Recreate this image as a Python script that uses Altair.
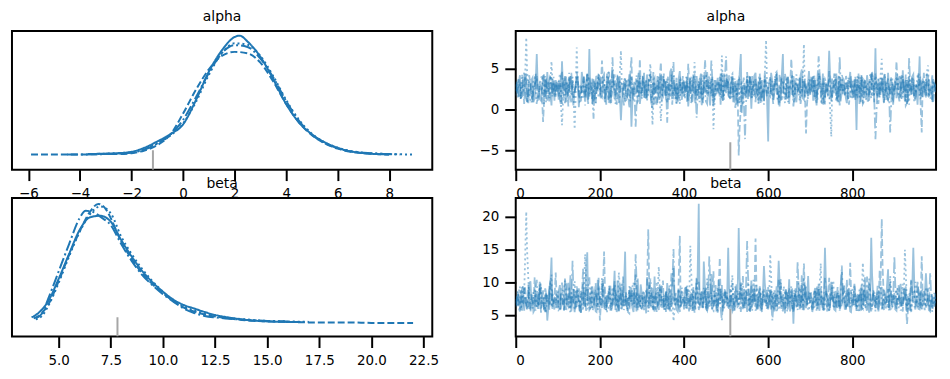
import altair as alt
import pandas as pd

CHAINS = ["0", "1", "2", "3"]
BLUE = "#1f77b4"
DASHES = [[1, 0], [7, 3], [11, 3, 2, 3], [2, 3]]

# ---------------- KDE (alpha) ----------------
ALPHA_KDE_X0 = [-3.7, -3.0, -2.5, -2.0, -1.5, -1.0, -0.5, 0.0, 0.5, 1.0, 1.5, 2.0, 2.2, 2.5, 3.0, 3.5, 4.0, 4.5, 5.0, 5.5, 6.0, 6.5, 7.0, 7.5, 8.0]
ALPHA_KDE_Y0 = [0.002, 0.003, 0.004, 0.007, 0.016, 0.030, 0.046, 0.068, 0.122, 0.185, 0.232, 0.262, 0.265, 0.252, 0.218, 0.168, 0.113, 0.072, 0.046, 0.028, 0.016, 0.008, 0.004, 0.002, 0.001]
ALPHA_KDE_X1 = [-5.9, -5.0, -4.0, -3.0, -2.5, -2.0, -1.5, -1.0, -0.5, 0.0, 0.5, 1.0, 1.5, 2.0, 2.5, 3.0, 3.5, 4.0, 4.5, 5.0, 5.5, 6.0, 6.5, 7.0, 7.5, 8.0]
ALPHA_KDE_Y1 = [0.001, 0.001, 0.001, 0.002, 0.002, 0.004, 0.010, 0.022, 0.045, 0.092, 0.145, 0.190, 0.220, 0.229, 0.226, 0.205, 0.163, 0.113, 0.072, 0.044, 0.026, 0.014, 0.007, 0.004, 0.002, 0.001]
ALPHA_KDE_X2 = [-4.5, -4.0, -3.0, -2.0, -1.5, -1.0, -0.5, 0.0, 0.5, 1.0, 1.5, 2.0, 2.5, 3.0, 3.5, 4.0, 4.5, 5.0, 5.5, 6.0, 6.5, 7.0, 7.5, 8.0, 8.4]
ALPHA_KDE_Y2 = [0.001, 0.001, 0.002, 0.005, 0.012, 0.025, 0.045, 0.078, 0.128, 0.182, 0.226, 0.244, 0.240, 0.214, 0.172, 0.120, 0.076, 0.045, 0.026, 0.015, 0.008, 0.005, 0.003, 0.002, 0.001]
ALPHA_KDE_X3 = [-3.5, -3.0, -2.0, -1.5, -1.0, -0.5, 0.0, 0.5, 1.0, 1.5, 2.0, 2.5, 3.0, 3.5, 4.0, 4.5, 5.0, 5.5, 6.0, 6.5, 7.0, 7.5, 8.0, 8.9]
ALPHA_KDE_Y3 = [0.002, 0.003, 0.006, 0.013, 0.026, 0.043, 0.070, 0.118, 0.178, 0.226, 0.248, 0.245, 0.220, 0.175, 0.122, 0.078, 0.047, 0.028, 0.016, 0.009, 0.005, 0.003, 0.002, 0.001]

# ---------------- KDE (beta) ----------------
BETA_KDE_X0 = [3.7, 4.0, 4.5, 5.0, 5.5, 6.0, 6.5, 7.0, 7.5, 8.0, 8.5, 9.0, 9.5, 10.0, 10.5, 11.0, 11.5, 12.0, 12.5, 13.0, 14.0, 15.0, 16.0, 16.6]
BETA_KDE_Y0 = [0.012, 0.020, 0.045, 0.090, 0.140, 0.188, 0.214, 0.217, 0.205, 0.168, 0.135, 0.106, 0.083, 0.064, 0.048, 0.037, 0.030, 0.023, 0.017, 0.013, 0.007, 0.004, 0.003, 0.003]
BETA_KDE_X1 = [3.8, 4.0, 4.5, 5.0, 5.5, 6.0, 6.5, 6.9, 7.3, 7.5, 8.0, 8.5, 9.0, 9.5, 10.0, 10.5, 11.0, 11.5, 12.0, 12.5, 13.0, 14.0, 15.0, 16.0, 17.0, 18.0, 19.0, 20.0, 21.0, 22.0]
BETA_KDE_Y1 = [0.010, 0.014, 0.038, 0.085, 0.138, 0.185, 0.225, 0.241, 0.228, 0.212, 0.165, 0.130, 0.101, 0.079, 0.061, 0.045, 0.032, 0.024, 0.018, 0.014, 0.011, 0.006, 0.004, 0.003, 0.002, 0.002, 0.002, 0.001, 0.001, 0.001]
BETA_KDE_X2 = [3.9, 4.2, 4.5, 5.0, 5.5, 6.0, 6.3, 6.7, 7.0, 7.5, 8.0, 8.5, 9.0, 9.5, 10.0, 10.5, 11.0, 11.5, 12.0, 12.5, 13.0, 14.0, 15.0, 16.0]
BETA_KDE_Y2 = [0.010, 0.020, 0.050, 0.105, 0.160, 0.212, 0.227, 0.224, 0.215, 0.198, 0.160, 0.126, 0.098, 0.077, 0.059, 0.044, 0.030, 0.021, 0.015, 0.012, 0.010, 0.007, 0.005, 0.004]
BETA_KDE_X3 = [3.9, 4.2, 4.5, 5.0, 5.5, 6.0, 6.5, 7.0, 7.5, 8.0, 8.5, 9.0, 9.5, 10.0, 10.5, 11.0, 11.5, 12.0, 12.5, 13.0, 14.0, 15.0, 16.0, 17.0]
BETA_KDE_Y3 = [0.008, 0.015, 0.035, 0.082, 0.135, 0.184, 0.220, 0.236, 0.222, 0.175, 0.140, 0.110, 0.085, 0.064, 0.046, 0.034, 0.026, 0.020, 0.015, 0.012, 0.008, 0.005, 0.004, 0.003]

# ---------------- Trace values: draws 0,5,10,... ----------------
ALPHA_TRACE_0 = [
    3.1, 2.4, 4.2, 1.6, 2.9, 3.5, 0.8, 2.2, 3.9, 1.4, 6.8, 2.7, 1.1, 3.3, 2.0, 4.6, 1.9, 0.5, 2.8, 3.6,
    2.3, 1.2, 5.9, 2.6, 0.9, 3.0, 4.1, 1.7, 2.5, 3.8, 0.3, 2.1, 3.4, 1.5, 4.4, 7.4, 2.0, 1.0, 3.2, 2.7,
    4.0, 1.8, 2.9, 0.6, 3.5, 2.2, 4.8, 1.3, 2.6, 3.7, -1.3, 2.4, 3.1, 1.6, 4.3, -2.1, 2.8, 1.9, 3.6, 0.7,
    2.5, 4.5, 1.4, 3.0, 2.1, 0.2, 3.9, 2.7, 1.8, 4.2, 2.3, 3.3, 0.9, 2.6, 5.0, 1.7, 3.1, 2.0, 4.7, 1.2,
    3.4, 2.2, 0.4, 3.8, 2.9, 1.5, 4.1, 2.4, 3.2, 1.0, 2.7, 4.6, 1.9, 3.5, 0.8, 2.8, 3.9, 1.6, 2.3, 4.4,
    2.0, 3.1, 1.3, 4.0, 2.5, 0.6, 3.3, 6.8, 2.2, 1.7, 3.7, 2.6, 0.1, 3.0, 4.5, 1.8, 2.9, 3.6, 1.1, 2.4,
    -3.9, 1.9, 3.4, 2.1, 4.3, 1.4, 2.8, 6.8, 2.0, 3.2, 0.7, 2.5, 4.1, 1.6, 3.0, 2.3, 4.9, 1.2, 2.6, 3.5,
    1.8, 3.9, 2.4, 0.5, 3.1, 2.7, 4.4, 1.5, 2.2, 7.2, 1.9, 3.3, 2.6, 0.9, 4.0, 2.1, 3.6, 1.3, 2.8, 4.6,
    2.3, 3.0, -2.5, 2.9, 1.6, 3.8, 2.4, 4.2, 1.1, 2.7, 3.4, 7.5, 1.7, 2.5, 3.9, 0.8, 2.2, 4.5, 1.9, 3.1,
    2.6, 1.4, 3.7, 2.0, 4.8, 1.0, 2.9, 3.5, 1.8, 4.3, 2.4, 0.6, 6.5, 2.1, 3.3, 1.5, 4.0, 2.7, 1.2, 3.2,
]
ALPHA_TRACE_1 = [
    2.8, 1.5, 3.6, 2.3, 0.7, 4.4, 2.0, 3.1, 1.2, 2.9, 4.1, 1.8, 2.5, -1.5, 3.4, 2.2, 0.9, 3.8, 2.6, 1.6,
    3.3, 2.1, 4.7, 1.4, 2.8, 0.4, 3.5, 2.4, 1.9, 4.0, 2.6, 1.1, 3.2, 2.0, 4.5, 1.6, 2.9, 3.7, 0.8, 2.3,
    3.0, 6.0, 1.7, 2.7, 3.9, 1.3, 2.5, 4.3, 0.6, 3.1, 2.2, 1.5, 3.6, 2.8, 0.2, 6.4, 2.4, 3.3, 1.0, 6.2,
    2.1, 3.5, 1.4, 2.9, 4.2, 1.9, 0.5, 3.0, 2.6, 5.8, 1.7, 2.3, 3.8, 1.2, 2.7, 4.1, 2.0, 0.9, 3.4, 2.5,
    1.6, 3.2, 5.6, 2.1, 0.8, 3.7, 2.4, 1.3, 4.4, 2.8, 6.1, 1.9, 3.0, 2.2, 0.4, 3.6, 2.6, 4.0, 1.5, 2.9,
    3.3, 1.8, 2.5, 4.2, 1.1, 2.7, -5.6, 0.3, 3.1, 2.0, 4.6, 1.6, 2.8, 3.5, 0.9, 2.4, 3.9, 1.4, 2.2, 3.0,
    2.6, 4.1, 1.7, 3.4, 2.3, 0.6, 3.8, 2.1, 4.4, 1.5, 2.9, 6.2, 1.2, 3.0, 2.4, 4.0, 1.8, 3.3, -2.9, 2.7,
    1.9, 3.6, 2.5, 0.8, 4.3, 2.2, 3.1, 1.4, 2.8, 4.7, 1.0, 2.6, 3.5, 2.0, 0.5, 3.2, 2.7, 4.1, 1.6, 2.3,
    3.7, 1.3, 2.9, 4.5, 2.1, 0.7, 3.4, 2.5, 1.8, 3.9, 2.2, 4.2, 1.5, 2.8, 3.1, 0.9, 2.6, 3.8, 2.0, 1.4,
    3.0, 5.9, 2.3, 1.6, 3.6, 2.7, 0.8, 4.1, 2.2, 3.3, 1.2, 2.9, 4.0, -2.8, 2.4, 3.5, 1.7, 2.6, 4.3, 2.1,
]
ALPHA_TRACE_2 = [
    2.2, 3.7, 1.9, 2.8, 4.5, 1.3, 2.6, 3.2, 0.9, 2.4, 3.8, 1.6, 2.9, 4.2, 2.0, 1.1, 3.5, 2.7, 4.0, 1.8,
    2.5, 3.3, 0.7, 2.9, 4.1, 2.1, 1.4, 3.6, 2.3, 4.6, 1.7, 2.8, 3.1, 0.5, 2.6, 3.9, 2.0, -1.1, 3.4, 2.2,
    1.5, 3.0, 4.3, 2.4, 1.2, 3.7, 6.4, 2.0, 2.7, 0.8, 3.5, 2.3, 4.0, 1.6, 2.9, 3.2, 1.0, -2.1, 2.5, 3.8,
    2.1, 1.4, 3.6, 2.8, 4.4, 1.9, 2.6, 0.6, 3.3, 2.2, 4.1, 1.7, -1.6, 3.0, 2.5, 5.8, 1.3, 2.9, 3.7, 2.0,
    3.4, 2.6, 1.1, 3.9, 2.3, 4.2, -1.0, 2.8, 1.5, 3.1, 2.4, 0.7, 3.6, 6.0, 2.1, 1.8, 3.3, 2.7, 4.5, 1.2,
    6.5, 2.2, 3.0, 1.6, 3.8, 2.5, 0.9, 3.4, 2.0, -3.6, 2.8, 4.1, 1.4, 2.6, 3.5, 1.9, 4.4, 2.3, 0.6, 3.1,
    2.4, 3.7, 1.7, 2.9, 4.6, 2.1, 1.0, 3.3, 2.6, 3.9, 1.5, 2.7, 0.4, 3.6, 2.2, 4.0, 1.8, 3.1, 2.5, 1.3,
    3.5, 2.0, 4.2, 1.6, 6.5, 2.8, 3.2, 0.8, 2.4, 3.8, 1.9, 2.6, 4.3, 1.2, 6.5, 2.3, 3.0, 1.7, 3.6, 2.9,
    1.4, 3.3, 2.5, 4.0, 0.9, 2.7, 3.6, 1.8, 2.2, 4.4, 2.9, -3.6, 3.1, 1.5, 2.6, 3.9, 2.0, 1.1, -2.8, 3.4,
    2.3, 3.8, 1.6, 2.9, 4.1, 2.2, 0.7, 6.3, 2.5, 3.4, 1.3, 2.8, 3.7, 2.0, 4.5, 1.7, 3.0, 2.4, 0.9, 3.2,
]
ALPHA_TRACE_3 = [
    1.7, 3.4, 2.6, 4.3, 2.1, 8.8, 3.0, 1.2, 2.7, 3.9, 0.6, 2.3, 3.6, 1.9, 4.1, 2.5, 1.4, 5.9, 2.8, 3.2,
    2.0, 4.4, -1.9, 2.9, 3.5, 1.6, 2.4, 4.0, -2.4, 7.6, 2.2, 3.1, 1.3, 2.8, 4.2, 1.8, 3.3, 2.5, 0.8, 3.7,
    2.6, 1.5, 3.8, 2.3, 4.5, 1.0, 2.9, 3.4, 1.7, 2.1, 7.2, 2.7, 0.9, 3.6, 2.4, 4.1, 1.6, 3.0, 2.2, 3.9,
    1.3, 2.8, 3.5, 2.0, 5.6, -1.9, 3.2, 2.5, 4.0, -1.4, 2.9, 3.7, 1.8, 2.4, 4.3, 1.1, 3.0, 2.6, 0.7, 3.4,
    2.2, 4.0, 1.9, 3.1, 2.7, 5.8, 1.4, 3.5, 2.3, 0.8, 3.8, 2.5, 4.2, 1.6, -2.4, 3.0, 2.1, 3.6, 6.6, 1.7,
    2.9, 3.3, 1.2, 4.4, 2.4, 1.8, 3.7, 2.6, 0.5, 3.0, 4.1, 2.0, 2.8, 1.5, 3.9, 2.2, 3.4, 1.0, 2.7, 8.5,
    2.1, 1.6, 3.5, 2.9, 4.3, 1.3, 2.6, 3.2, 0.8, 3.8, 2.4, 4.0, 1.9, 2.7, 3.4, 1.1, 2.3, 8.0, 3.0, 2.0,
    3.6, 2.5, 1.4, 3.1, 4.5, 2.2, 0.9, 3.7, 2.8, 1.7, -3.3, 2.6, 3.9, 1.5, 2.3, 4.2, 2.0, 3.3, 1.2, 2.9,
    2.4, 3.8, 1.8, 2.6, 4.0, 0.7, 3.2, 2.1, 3.5, 1.4, 2.9, 4.4, 2.3, 1.6, 6.2, 2.7, 3.4, 1.0, 2.5, 3.9,
    1.9, 3.1, 2.6, 4.2, 1.5, 2.8, 3.6, 0.6, 2.3, 3.9, 2.0, 4.1, 1.7, 3.0, 2.5, 3.5, 5.4, 1.3, 2.7, 3.3,
]

# ---------------- Trace values: draws 2,7,12,... ----------------
ALPHA_MID_0 = [
    2.0, 3.3, 1.5, 2.7, 4.0, 1.9, 2.4, 3.6, 0.9, 2.8, 3.2, 1.3, 2.5, 4.3, 1.7, 3.0, 2.2, 3.7, 1.1, 2.6,
    3.5, 0.7, 2.9, 4.1, 1.8, 2.3, 3.4, 0.5, 2.7, 3.9, 1.6, 4.6, 2.0, 3.1, 1.2, 2.6, 3.8, 1.5, 2.4, 4.2,
    1.4, 3.2, 2.6, 4.4, 0.8, 2.9, 3.5, 1.7, 4.0, 2.2, 0.9, 3.3, 1.8, 2.7, 3.9, 0.6, 3.4, 2.3, 4.5, 1.6,
    3.0, 1.9, 4.3, 2.4, 0.9, 3.6, 2.1, 4.1, 1.2, 2.8, 3.5, 1.4, 3.1, 4.6, 1.8, 2.5, 0.7, 3.7, 2.2, 3.0,
    2.6, 4.0, 1.6, 2.3, 3.4, 0.8, 2.9, 3.8, 1.5, 4.2, 2.0, 3.1, 0.5, 2.7, 3.6, 1.9, 2.4, 4.4, 1.1, 3.3,
    3.8, 1.7, 2.8, 0.9, 3.5, 2.1, 4.3, -0.4, 3.0, 2.4, 1.3, 3.9, 2.6, 4.1, 1.6, 3.2, 0.8, 2.5, 3.6, 1.9,
    2.3, 4.5, 1.2, 3.1, 2.7, 0.4, 3.8, 2.0, 1.5, 4.0, 2.9, 1.8, 3.4, 0.9, 2.6, 4.2, 1.4, 3.5, 2.1, 4.7,
    2.8, 1.1, 3.6, 2.2, 4.1, 1.7, 0.6, 3.3, 2.5, 4.4, 1.4, 2.9, 3.7, 2.0, 1.0, 3.9, 2.4, 0.8, 3.2, 2.7,
    1.5, 3.7, 2.9, 0.7, 4.0, 2.3, 1.6, 3.4, 2.6, 4.6, 0.9, 2.1, 3.8, 1.8, 2.5, 4.3, 1.2, 3.0, 2.7, 0.6,
    3.5, 2.2, 4.1, 1.3, 2.8, 3.6, 0.9, 2.4, 4.0, 1.7, 3.1, 2.5, 1.4, 3.8, 2.0, 4.4, 1.6, 2.9, 3.3, 2.1,
]
ALPHA_MID_1 = [
    3.4, 2.0, 1.2, 3.8, 2.5, 0.9, 4.2, 1.7, 2.8, 3.5, 1.4, 3.0, 2.2, 0.6, 3.7, 2.6, 4.0, 1.9, 3.2, 2.4,
    1.6, 3.9, 2.3, 0.8, 3.3, 2.7, 4.5, 1.5, 2.9, 3.6, 1.0, 2.5, 4.1, 1.8, 3.2, 2.1, 0.7, 3.4, 2.6, 4.3,
    2.2, 3.7, 0.9, 2.4, 4.6, 1.6, 3.1, 2.8, 1.3, 3.9, 2.5, 0.5, 3.5, 2.0, 4.2, 1.8, 2.9, 3.6, 1.2, 2.7,
    3.8, 1.5, 2.6, 4.0, 1.1, 3.3, 2.4, 0.8, 3.7, 2.0, 4.4, 1.7, 2.8, 3.1, 0.6, 2.5, 3.9, 1.4, 2.3, 4.1,
    2.9, 0.9, 3.5, 2.2, 4.3, 1.6, 2.7, 3.4, 0.4, 2.6, 3.8, 1.9, 2.4, 4.0, 1.3, 3.1, 2.0, 3.6, 1.1, 2.8,
    4.2, 1.5, 3.0, 2.3, 0.2, 3.6, -2.4, 2.1, 3.9, 1.4, 2.7, 4.1, 1.8, 3.2, 2.5, 0.8, 3.4, 2.2, 4.5, 1.6,
    3.1, 2.4, 0.7, 3.7, 2.0, 4.3, 1.2, 2.9, 3.5, 1.7, 2.6, 4.0, 0.9, 3.3, 2.1, 1.5, 3.8, 2.7, 0.3, 3.4,
    2.5, 4.1, 1.3, 3.0, 2.3, 0.8, 3.9, 2.6, 1.6, 3.5, 2.0, 4.4, 1.1, 2.8, 3.3, 1.9, 2.4, 3.7, 0.6, 3.1,
    2.2, 4.0, 1.4, 2.7, 3.6, 0.9, 3.2, 2.5, 4.3, 1.7, 2.9, 3.4, 0.7, 2.3, 3.8, 1.5, 3.0, 2.1, 4.1, 1.2,
    2.6, 3.5, 1.8, 4.2, 2.4, 0.5, 3.3, 2.0, 3.9, 1.6, 2.8, 4.4, 1.0, 2.5, 3.1, 1.9, 3.7, 2.3, 0.8, 3.4,
]
ALPHA_MID_2 = [
    3.0, 1.4, 2.7, 4.1, 2.2, 0.8, 3.5, 1.9, 2.6, 4.4, 1.1, 3.2, 2.4, 0.7, 3.8, 2.0, 4.2, 1.6, 2.9, 3.4,
    1.2, 2.8, 3.9, 1.7, 2.3, 4.5, 0.9, 3.1, 2.5, 3.7, 1.4, 2.1, 4.0, 2.7, 0.6, 3.3, 1.8, 2.6, 4.3, 1.5,
    2.9, 4.0, 1.3, 3.2, 2.0, 0.7, 3.6, 2.4, 4.2, 1.5, 2.8, 3.4, 1.1, 2.6, 3.9, 1.8, 2.3, 0.4, 3.5, 2.1,
    4.1, 2.5, 1.0, 3.3, 2.7, 4.6, 1.6, 2.2, 3.8, 0.9, 2.9, 3.5, 1.3, 2.4, 4.2, 2.0, 3.1, 1.5, 2.6, 3.7,
    1.8, 3.4, 2.1, 0.8, 3.9, 2.6, 1.4, 3.0, 4.3, 2.2, 1.0, 3.6, 2.5, 4.0, 1.7, 2.8, 3.3, 0.6, 2.4, 3.9,
    2.7, 4.2, 1.5, 3.1, 2.3, 0.9, 3.7, 2.0, 1.2, 0.5, 3.4, 2.6, 4.1, 1.8, 2.9, 3.5, 1.1, 2.4, 4.0, 2.2,
    3.3, 1.6, 2.8, 4.4, 2.0, 0.8, 3.5, 2.6, 1.3, 3.9, 2.3, 4.2, 1.7, 2.9, 3.2, 0.7, 2.5, 3.8, 1.9, 2.6,
    4.0, 2.2, 1.4, 3.6, 4.7, 2.5, 0.9, 3.1, 2.7, 1.6, 3.8, 2.0, 4.3, 1.1, 3.4, 2.4, 1.8, 3.0, 2.6, 4.1,
    2.0, 1.2, 3.5, 2.7, 4.2, 1.7, 2.9, 0.8, 3.3, 2.4, 1.5, -0.9, 2.6, 3.9, 2.1, 4.4, 1.3, 3.0, 0.2, 2.8,
    3.6, 2.1, 1.0, 3.4, 2.7, 4.3, 1.6, 3.8, 2.3, 0.9, 3.1, 2.5, 4.0, 1.4, 2.9, 3.5, 1.8, 2.2, 3.7, 2.6,
]
ALPHA_MID_3 = [
    2.5, 3.9, 1.3, 2.8, 3.4, 4.6, 2.1, 0.8, 3.6, 2.4, 1.7, 3.1, 4.2, 2.0, 0.9, 3.5, 2.7, 3.8, 1.5, 2.9,
    3.3, 1.1, 0.6, 3.7, 2.2, 4.0, 1.8, 2.6, 0.9, 3.9, 2.5, 1.4, 3.4, 2.0, 4.3, 2.8, 1.2, 3.6, 2.3, 4.1,
    1.7, 3.0, 2.4, 4.4, 1.3, 2.8, 3.5, 0.7, 2.6, 4.0, 3.3, 1.9, 2.2, 3.8, 1.0, 3.1, 2.5, 4.2, 1.6, 2.7,
    3.5, 2.0, 1.4, 3.9, 3.0, 0.5, 2.7, 3.4, 1.8, 0.9, 3.6, 2.3, 4.1, 1.5, 2.9, 3.2, 0.8, 2.4, 3.7, 2.1,
    1.3, 3.4, 2.8, 4.0, 1.9, 3.6, 2.5, 0.9, 3.2, 2.2, 4.3, 1.6, 2.7, 3.9, 0.4, 2.6, 3.5, 1.8, 3.0, 2.4,
    3.7, 2.1, 4.2, 1.5, 2.9, 3.3, 0.8, 3.6, 2.3, 1.9, 2.8, 4.0, 1.4, 3.2, 2.6, 0.7, 3.9, 2.0, 4.4, 3.5,
    1.8, 3.0, 2.4, 4.1, 1.2, 2.7, 3.8, 2.0, 3.4, 0.9, 2.6, 3.7, 1.5, 4.3, 2.2, 2.9, 3.1, 1.6, 2.5, 3.6,
    2.3, 4.0, 2.8, 1.1, 3.5, 0.6, 2.9, 3.4, 1.7, 0.4, 2.2, 3.8, 1.4, 4.2, 2.6, 3.1, 1.9, 2.7, 3.9, 1.3,
    3.2, 2.0, 4.1, 1.5, 2.8, 3.6, 1.1, 3.3, 2.4, 4.5, 1.8, 2.6, 3.7, 4.0, 2.5, 1.2, 3.0, 2.3, 3.8, 1.6,
    2.9, 4.3, 1.4, 2.6, 3.4, 0.8, 2.2, 3.7, 1.9, 3.0, 2.5, 4.1, 1.3, 3.6, 2.0, 4.4, 2.8, 1.7, 3.2, 2.4,
]

BETA_TRACE_0 = [
    7.2, 8.5, 6.1, 9.3, 5.7, 7.8, 6.4, 10.2, 7.0, 5.9, 8.1, 6.6, 9.0, 7.4, 5.5, 4.2, 8.8, 13.8, 6.9, 7.6,
    6.2, 9.6, 7.3, 5.8, 8.4, 6.7, 11.1, 7.1, 6.0, 8.9, 7.5, 5.4, 9.8, 6.5, 14.6, 7.9, 6.3, 8.2, 5.6, 10.4,
    7.7, 6.1, 8.7, 5.9, 7.2, 9.5, 6.6, 11.8, 7.0, 5.7, 8.3, 6.9, 14.7, 7.4, 6.2, 9.1, 5.5, 7.8, 10.6, 6.4,
    8.0, 6.8, 5.3, 9.4, 7.1, 6.5, 10.9, 7.6, 5.8, 8.6, 6.3, 7.9, 9.9, 6.0, 7.3, 12.2, 6.7, 5.6, 8.4, 7.0,
    6.4, 9.2, 7.5, 5.9, 8.1, 6.8, 10.7, 22.0, 7.7, 6.2, 8.9, 5.7, 7.2, 11.3, 6.6, 8.5, 5.4, 7.9, 9.6, 6.9,
    7.3, 15.3, 6.0, 8.2, 5.8, 9.7, 18.3, 7.1, 6.5, 8.8, 5.5, 7.6, 10.3, 6.7, 7.9, 5.9, 9.1, 6.3, 12.5, 7.4,
    6.1, 8.6, 7.0, 5.6, 9.4, 13.3, 6.8, 8.0, 5.3, 7.5, 10.5, 6.4, 3.7, 8.3, 7.2, 5.9, 9.9, 6.6, 7.8, 11.0,
    6.9, 5.5, 8.7, 7.3, 6.2, 9.2, 5.8, 15.3, 7.6, 6.5, 10.1, 7.0, 5.7, 8.4, 6.3, 11.6, 7.4, 6.0, 8.9, 5.6,
    7.8, 9.5, 6.4, 8.1, 5.9, 7.2, 10.8, 6.7, 5.4, 16.8, 7.5, 6.1, 8.6, 7.0, 9.3, 5.8, 6.8, 12.0, 7.3, 6.3,
    8.4, 5.7, 7.1, 9.8, 6.5, 8.0, 5.5, 7.7, 10.4, 15.3, 6.2, 7.4, 5.9, 8.7, 6.9, 11.4, 7.2, 5.6, 8.2, 6.6,
]
BETA_TRACE_1 = [
    6.8, 7.9, 5.6, 8.4, 7.1, 6.3, 9.7, 5.9, 7.5, 10.8, 6.5, 8.2, 5.4, 7.3, 9.1, 6.7, 5.8, 8.6, 7.0, 11.5,
    7.6, 6.0, 8.9, 5.7, 7.2, 10.1, 6.4, 7.8, 5.5, 9.4, 6.9, 8.3, 12.1, 6.2, 7.4, 5.8, 8.8, 6.6, 9.9, 7.1,
    4.2, 7.7, 14.7, 6.1, 8.5, 5.9, 7.3, 9.6, 6.7, 5.6, 8.0, 10.9, 6.4, 7.5, 5.3, 8.7, 6.9, 11.2, 7.0, 6.2,
    8.3, 5.8, 7.4, 18.1, 6.5, 9.2, 7.9, 5.5, 8.6, 6.8, 10.3, 7.2, 6.0, 9.0, 5.7, 7.6, 8.1, 6.3, 17.1, 7.0,
    5.9, 9.5, 6.6, 8.2, 7.3, 5.4, 10.6, 6.9, 7.8, 6.1, 8.9, 5.7, 7.5, 6.4, 11.7, 7.1, 6.0, 13.8, 8.4, 6.7,
    7.4, 6.2, 9.0, 5.6, 8.0, 7.0, 6.5, 10.2, 5.8, 7.7, 8.8, 6.3, 9.7, 7.2, 16.7, 6.0, 8.5, 5.5, 7.9, 6.8,
    9.3, 6.6, 7.5, 5.9, 8.2, 6.4, 10.5, 7.1, 5.7, 8.7, 6.9, 7.8, 5.4, 9.1, 6.3, 7.6, 11.3, 12.9, 6.1, 8.0,
    7.0, 5.8, 8.6, 6.7, 9.8, 7.3, 6.0, 8.1, 5.6, 10.7, 7.5, 6.4, 8.9, 5.9, 7.2, 6.6, 9.4, 7.7, 6.2, 13.0,
    6.8, 8.3, 5.7, 7.6, 9.2, 6.1, 7.9, 5.5, 10.0, 6.9, 8.5, 7.1, 6.3, 11.8, 19.7, 7.4, 6.5, 9.0, 5.8, 8.2,
    7.3, 6.0, 9.6, 7.8, 5.6, 8.4, 3.7, 6.6, 10.3, 7.0, 5.9, 8.1, 6.7, 14.0, 7.5, 6.2, 9.1, 5.7, 7.9, 6.4,
]
BETA_TRACE_2 = [
    6.3, 8.7, 7.4, 5.7, 9.2, 6.6, 7.9, 5.5, 8.3, 6.9, 10.4, 7.2, 6.0, 8.8, 5.8, 7.6, 9.5, 6.4, 7.0, 5.9,
    8.1, 6.7, 10.0, 7.3, 5.6, 8.6, 6.2, 13.3, 7.7, 6.5, 9.1, 5.4, 7.5, 8.4, 6.1, 10.8, 7.0, 5.9, 8.9, 6.8,
    7.6, 9.7, 6.3, 5.8, 8.2, 7.1, 6.6, 10.2, 5.5, 7.8, 8.9, 6.4, 7.2, 5.7, 9.4, 6.9, 8.0, 14.3, 6.2, 7.5,
    5.9, 8.5, 7.0, 6.4, 10.6, 7.7, 5.6, 8.8, 6.7, 9.3, 7.4, 6.0, 8.1, 5.8, 11.4, 15.1, 6.5, 7.9, 5.5, 8.7,
    7.2, 6.1, 9.0, 7.8, 5.7, 8.4, 6.6, 10.1, 7.5, 6.3, 8.6, 5.9, 14.0, 7.1, 6.8, 9.6, 5.6, 7.7, 4.2, 8.2,
    6.9, 7.4, 5.8, 9.9, 6.5, 8.0, 7.3, 5.5, 11.0, 6.2, 16.3, 7.6, 6.0, 8.7, 5.7, 7.1, 9.4, 6.6, 8.3, 7.0,
    5.9, 8.9, 4.2, 7.5, 6.3, 10.4, 7.8, 5.6, 8.1, 6.7, 9.2, 7.1, 6.0, 8.5, 13.2, 6.4, 7.7, 5.8, 9.6, 6.9,
    8.2, 6.1, 7.3, 5.7, 9.0, 6.6, 7.9, 10.7, 6.3, 5.5, 8.4, 7.2, 6.8, 9.3, 5.9, 12.6, 7.6, 6.2, 8.0, 7.0,
    6.5, 9.8, 5.8, 7.4, 8.6, 6.0, 7.7, 10.9, 6.4, 5.6, 8.2, 7.1, 9.5, 6.7, 5.9, 8.8, 7.3, 6.2, 10.1, 7.8,
    14.0, 6.6, 8.0, 5.7, 7.5, 9.1, 6.3, 7.9, 5.5, 8.5, 6.9, 10.3, 7.2, 6.0, 8.7, 6.4, 7.6, 11.5, 6.1, 7.3,
]
BETA_TRACE_3 = [
    7.5, 6.2, 9.4, 7.0, 8.3, 20.8, 10.5, 6.8, 5.8, 8.9, 7.3, 6.0, 9.8, 7.7, 5.6, 8.2, 6.5, 11.2, 7.1, 6.4,
    8.6, 5.9, 7.4, 9.1, 6.7, 8.0, 5.5, 7.8, 10.2, 6.3, 7.2, 8.8, 5.7, 14.3, 6.9, 7.6, 9.5, 6.1, 8.4, 5.8,
    7.0, 10.7, 6.6, 8.1, 5.6, 7.5, 9.3, 6.4, 7.9, 11.5, 6.0, 8.5, 7.2, 5.9, 8.9, 6.8, 10.0, 7.4, 5.7, 8.2,
    6.3, 7.7, 9.0, 5.5, 8.4, 6.9, 7.3, 10.1, 12.4, 6.6, 8.0, 5.8, 7.5, 9.6, 6.2, 4.1, 8.6, 7.1, 5.9, 9.2,
    7.8, 6.4, 8.7, 15.6, 6.0, 7.4, 9.9, 5.7, 8.2, 6.8, 7.1, 10.6, 6.3, 8.5, 5.6, 7.9, 9.3, 6.7, 7.5, 5.9,
    8.8, 6.5, 7.2, 11.1, 5.8, 8.0, 6.9, 9.7, 7.4, 6.1, 8.6, 5.5, 7.7, 10.4, 6.6, 8.3, 7.0, 5.9, 9.1, 6.4,
    7.6, 14.3, 6.2, 8.9, 5.7, 7.3, 10.0, 6.8, 8.1, 5.6, 7.9, 9.4, 6.5, 7.1, 5.8, 8.7, 6.3, 10.8, 7.4, 6.0,
    8.4, 7.0, 5.9, 9.2, 6.6, 12.9, 7.7, 6.1, 8.5, 5.5, 7.3, 10.3, 6.8, 8.0, 5.7, 7.5, 9.6, 6.4, 7.9, 6.2,
    9.0, 6.7, 7.4, 5.8, 8.3, 13.0, 6.0, 7.8, 10.6, 6.5, 8.8, 5.6, 7.2, 9.4, 6.9, 7.6, 5.9, 8.2, 11.0, 6.3,
    7.7, 8.9, 6.1, 7.3, 9.8, 15.0, 6.6, 8.1, 5.7, 7.5, 10.1, 6.4, 8.6, 5.9, 7.0, 9.3, 6.2, 7.8, 5.5, 8.4,
]

BETA_MID_0 = [
    6.6, 7.9, 5.8, 8.9, 7.0, 6.2, 9.6, 7.4, 5.5, 8.2, 6.9, 10.1, 7.3, 6.0, 8.5, 5.7, 9.3, 6.8, 7.7, 6.3,
    8.7, 5.9, 7.5, 10.6, 6.4, 7.1, 5.6, 9.0, 6.7, 8.0, 5.8, 7.8, 6.5, 11.4, 7.2, 6.1, 9.4, 7.6, 5.5, 8.3,
    6.8, 9.9, 6.0, 7.3, 8.6, 5.7, 7.9, 6.4, 10.3, 7.0, 5.9, 8.8, 6.6, 7.5, 9.2, 6.2, 8.1, 5.6, 7.4, 9.7,
    6.5, 7.8, 10.8, 6.1, 8.4, 5.8, 7.2, 6.9, 9.5, 6.3, 8.0, 5.5, 7.7, 6.6, 10.0, 7.1, 5.9, 8.9, 6.4, 7.5,
    9.1, 6.0, 7.6, 8.3, 5.7, 7.0, 9.8, 6.5, 8.6, 13.2, 7.3, 6.2, 8.1, 5.9, 7.8, 6.7, 10.4, 7.2, 5.6, 8.5,
    6.4, 9.3, 7.1, 5.8, 8.0, 6.6, 10.9, 7.7, 6.1, 8.7, 6.9, 5.5, 7.4, 9.0, 6.3, 8.2, 5.7, 7.6, 9.9, 6.8,
    7.2, 5.9, 8.4, 6.5, 7.9, 10.2, 6.0, 7.3, 8.8, 6.7, 5.6, 9.1, 7.5, 6.2, 8.1, 7.0, 5.8, 9.6, 6.4, 7.7,
    8.5, 6.3, 7.0, 9.4, 5.7, 8.0, 6.8, 10.6, 7.4, 6.1, 8.3, 5.9, 7.6, 6.6, 9.2, 7.1, 6.0, 8.7, 7.3, 5.5,
    6.9, 8.2, 7.5, 5.8, 9.7, 6.4, 8.0, 7.2, 6.0, 11.2, 6.7, 7.8, 5.6, 8.9, 6.3, 7.4, 9.1, 6.1, 8.4, 7.0,
    5.9, 7.6, 8.8, 6.5, 7.2, 9.4, 6.8, 5.7, 8.1, 10.5, 7.3, 6.0, 8.6, 6.4, 7.7, 9.0, 5.8, 7.1, 6.6, 8.3,
]
BETA_MID_1 = [
    7.4, 6.1, 8.8, 6.6, 9.5, 7.1, 5.7, 8.2, 6.4, 7.8, 5.9, 9.1, 7.0, 6.3, 8.5, 7.6, 10.3, 6.0, 7.3, 8.0,
    5.8, 8.4, 6.9, 7.7, 9.8, 6.2, 8.1, 7.0, 6.5, 8.6, 5.6, 7.5, 6.8, 9.3, 7.2, 6.0, 8.3, 7.9, 6.4, 10.7,
    6.3, 8.0, 9.2, 6.8, 7.4, 6.0, 8.7, 5.8, 7.6, 9.9, 6.5, 7.2, 8.5, 5.5, 7.9, 6.7, 9.4, 6.1, 8.3, 7.0,
    7.7, 6.4, 8.9, 10.5, 7.1, 5.9, 8.2, 6.6, 7.5, 9.0, 6.2, 8.6, 7.3, 5.7, 8.0, 6.9, 7.4, 9.6, 6.3, 7.8,
    6.8, 8.3, 5.6, 7.6, 9.3, 6.5, 7.9, 6.1, 8.8, 7.2, 6.0, 9.7, 7.0, 8.4, 6.7, 5.8, 8.1, 7.5, 6.4, 9.1,
    8.0, 6.9, 7.3, 5.9, 9.4, 6.3, 7.7, 8.5, 6.6, 7.1, 10.0, 5.7, 8.2, 6.8, 9.8, 7.4, 6.2, 8.7, 7.0, 6.0,
    7.8, 8.9, 6.4, 7.2, 6.0, 9.0, 7.6, 6.7, 8.3, 5.8, 7.4, 8.6, 6.5, 7.9, 10.2, 6.1, 7.3, 8.8, 6.9, 7.5,
    6.6, 7.9, 9.3, 6.2, 8.0, 7.1, 5.7, 8.7, 6.8, 7.6, 9.6, 6.4, 7.2, 8.1, 6.0, 7.8, 6.9, 10.4, 7.3, 8.5,
    7.2, 6.5, 8.4, 7.0, 5.9, 8.9, 6.6, 7.7, 9.2, 6.3, 7.5, 8.0, 5.8, 9.5, 12.3, 6.9, 7.3, 8.2, 6.1, 7.8,
    6.8, 8.6, 7.4, 6.2, 9.0, 7.1, 5.5, 7.9, 8.8, 6.5, 7.3, 9.4, 6.0, 8.3, 7.0, 6.7, 8.5, 7.2, 6.4, 7.6,
]
BETA_MID_2 = [
    7.8, 6.5, 8.1, 6.9, 7.4, 5.9, 9.0, 6.7, 7.2, 8.5, 6.2, 9.7, 7.5, 6.0, 8.3, 7.1, 6.4, 8.8, 5.8, 7.6,
    6.9, 7.7, 8.6, 6.3, 7.0, 9.3, 6.6, 8.9, 6.1, 7.4, 8.0, 6.8, 7.9, 5.7, 9.2, 7.2, 6.5, 8.4, 7.0, 6.2,
    8.2, 7.0, 6.6, 7.8, 9.5, 6.4, 7.3, 8.7, 6.0, 7.6, 9.8, 6.9, 8.1, 6.3, 7.5, 8.3, 6.7, 10.6, 7.1, 6.5,
    7.4, 6.8, 8.5, 7.1, 8.9, 6.2, 7.8, 6.5, 9.1, 7.3, 6.0, 8.6, 7.0, 6.7, 9.4, 8.8, 7.2, 6.4, 8.0, 7.5,
    6.6, 8.4, 7.3, 6.1, 8.8, 7.5, 6.9, 8.2, 6.3, 7.7, 9.2, 6.8, 10.5, 7.2, 6.5, 8.0, 7.4, 6.1, 7.0, 8.6,
    7.6, 6.4, 8.2, 7.0, 7.9, 6.6, 8.7, 7.1, 6.2, 8.4, 11.3, 6.9, 7.5, 8.1, 6.0, 7.8, 8.5, 6.7, 7.3, 8.9,
    6.8, 7.5, 6.1, 8.3, 7.0, 8.8, 6.5, 7.4, 9.0, 6.9, 7.8, 6.3, 8.2, 7.1, 9.6, 6.7, 8.0, 7.3, 6.6, 8.4,
    7.2, 6.9, 8.6, 6.4, 7.7, 8.1, 6.6, 8.9, 7.0, 6.8, 7.5, 8.3, 6.2, 8.0, 7.4, 9.1, 7.1, 6.5, 8.5, 7.3,
    6.6, 8.2, 7.0, 7.8, 6.3, 8.7, 7.2, 8.1, 6.9, 7.4, 8.8, 6.5, 7.9, 7.1, 6.7, 8.4, 7.6, 6.8, 8.0, 7.3,
    9.8, 7.1, 7.6, 6.5, 8.3, 7.0, 7.8, 6.8, 7.2, 8.6, 6.4, 8.0, 7.5, 6.9, 8.2, 7.1, 6.6, 8.7, 7.3, 6.9,
]
BETA_MID_3 = [
    6.9, 8.4, 5.9, 9.6, 12.8, 14.9, 7.6, 6.2, 8.8, 5.7, 7.3, 9.2, 6.5, 8.0, 5.6, 7.7, 9.9, 6.1, 7.4, 8.6,
    5.8, 7.9, 6.6, 10.3, 7.1, 5.9, 8.5, 6.8, 7.5, 9.0, 6.0, 7.2, 8.9, 10.6, 6.3, 8.1, 5.7, 7.8, 6.9, 9.4,
    6.4, 8.3, 7.0, 5.6, 9.1, 6.7, 7.7, 8.6, 6.1, 9.8, 7.3, 5.8, 8.0, 6.5, 7.6, 9.3, 6.2, 8.4, 7.1, 5.9,
    8.8, 6.3, 7.4, 9.7, 6.0, 8.1, 5.7, 7.9, 9.4, 6.8, 7.2, 8.5, 5.9, 7.6, 8.3, 5.5, 7.0, 9.0, 6.6, 8.2,
    7.1, 9.5, 6.4, 11.8, 7.7, 5.8, 8.6, 6.9, 7.3, 9.2, 6.1, 8.0, 7.5, 5.6, 8.7, 6.5, 7.8, 9.1, 6.3, 7.0,
    8.1, 5.9, 9.3, 7.4, 6.6, 8.8, 6.0, 7.6, 9.0, 6.7, 7.2, 8.4, 5.7, 7.9, 9.6, 6.2, 8.5, 6.8, 7.3, 8.0,
    6.9, 10.9, 7.5, 6.3, 8.2, 5.8, 7.7, 9.4, 6.4, 8.6, 7.0, 5.9, 8.9, 6.6, 7.4, 9.1, 6.1, 8.0, 7.2, 5.7,
    7.8, 6.5, 8.7, 6.0, 9.3, 7.1, 5.6, 8.4, 6.8, 7.5, 9.7, 6.2, 7.9, 8.5, 6.4, 7.3, 8.9, 6.1, 7.6, 8.2,
    6.7, 8.0, 5.8, 9.0, 7.2, 10.2, 6.3, 8.6, 7.5, 5.9, 8.1, 6.9, 7.7, 9.5, 6.0, 8.3, 7.0, 5.7, 8.8, 6.5,
    7.4, 9.2, 6.6, 8.0, 7.1, 11.6, 5.9, 8.5, 6.8, 7.7, 9.4, 6.2, 8.1, 7.0, 5.6, 8.7, 6.4, 7.9, 6.9, 7.5,
]

DRAW_STEP = 5
MID_OFFSET = 2
ALPHA_TICKS = [-6, -4, -2, 0, 2, 4, 6, 8]
BETA_TICKS = [5.0, 7.5, 10.0, 12.5, 15.0, 17.5, 20.0, 22.5]
DRAW_TICKS = [0, 200, 400, 600, 800]
ALPHA_Y_TICKS = [-5, 0, 5]
BETA_Y_TICKS = [5, 10, 15, 20]

# divergence marker (draw index, alpha value, beta value)
DIV_DRAW = 510
DIV_ALPHA = -1.17
DIV_BETA = 7.82


def kde_frame(xs, ys):
    rows = []
    for c, (x, y) in enumerate(zip(xs, ys)):
        for a, b in zip(x, y):
            rows.append({"chain": CHAINS[c], "v": a, "d": b})
    return pd.DataFrame(rows)


def trace_frame(series, mids):
    rows = []
    for c, (vals, mvals) in enumerate(zip(series, mids)):
        for i, v in enumerate(vals):
            rows.append({"chain": CHAINS[c], "draw": i * DRAW_STEP, "v": v})
        for i, v in enumerate(mvals):
            rows.append({"chain": CHAINS[c], "draw": i * DRAW_STEP + MID_OFFSET, "v": v})
    return pd.DataFrame(rows).sort_values(["chain", "draw"])


dash = alt.StrokeDash("chain:N", scale=alt.Scale(domain=CHAINS, range=DASHES), legend=None)
W, H = 423, 139.5


def kde_panel(df, title, xdom, ydom, ticks, fmt, div_x):
    x = alt.X("v:Q", scale=alt.Scale(domain=xdom, nice=False, zero=False),
              axis=alt.Axis(values=ticks, format=fmt, title=None))
    y = alt.Y("d:Q", scale=alt.Scale(domain=ydom, nice=False, zero=False), axis=None)
    lines = alt.Chart(df).mark_line(color=BLUE, strokeWidth=2, interpolate="monotone", clip=True).encode(
        x=x, y=y, strokeDash=dash, detail="chain:N")
    rule_df = pd.DataFrame({"v": [div_x], "d": [ydom[0]], "d2": [ydom[0] + (ydom[1] - ydom[0]) * 0.14]})
    rule = alt.Chart(rule_df).mark_rule(color="#a6a6a6", strokeWidth=2, clip=True).encode(
        x="v:Q", y="d:Q", y2="d2:Q")
    return alt.layer(lines, rule).properties(width=W, height=H, title=title)


def trace_panel(df, title, ydom, yticks, rule_top):
    x = alt.X("draw:Q", scale=alt.Scale(domain=[0, 999], nice=False, zero=False),
              axis=alt.Axis(values=DRAW_TICKS, format="d", title=None))
    y = alt.Y("v:Q", scale=alt.Scale(domain=ydom, nice=False, zero=False),
              axis=alt.Axis(values=yticks, format="d", title=None, labelPadding=6))
    lines = alt.Chart(df).mark_line(color=BLUE, strokeWidth=1.8, opacity=0.45, clip=True).encode(
        x=x, y=y, strokeDash=dash, detail="chain:N")
    rule_df = pd.DataFrame({"draw": [DIV_DRAW], "v": [ydom[0]], "v2": [rule_top]})
    rule = alt.Chart(rule_df).mark_rule(color="#a6a6a6", strokeWidth=2, clip=True).encode(
        x="draw:Q", y="v:Q", y2="v2:Q")
    return alt.layer(lines, rule).properties(width=W, height=H, title=title)


ka = kde_frame([ALPHA_KDE_X0, ALPHA_KDE_X1, ALPHA_KDE_X2, ALPHA_KDE_X3],
               [ALPHA_KDE_Y0, ALPHA_KDE_Y1, ALPHA_KDE_Y2, ALPHA_KDE_Y3])
kb = kde_frame([BETA_KDE_X0, BETA_KDE_X1, BETA_KDE_X2, BETA_KDE_X3],
               [BETA_KDE_Y0, BETA_KDE_Y1, BETA_KDE_Y2, BETA_KDE_Y3])
ta = trace_frame([ALPHA_TRACE_0, ALPHA_TRACE_1, ALPHA_TRACE_2, ALPHA_TRACE_3],
                 [ALPHA_MID_0, ALPHA_MID_1, ALPHA_MID_2, ALPHA_MID_3])
tb = trace_frame([BETA_TRACE_0, BETA_TRACE_1, BETA_TRACE_2, BETA_TRACE_3],
                 [BETA_MID_0, BETA_MID_1, BETA_MID_2, BETA_MID_3])

p1 = kde_panel(ka, "alpha", [-6.64, 9.67], [-0.0326, 0.2753], ALPHA_TICKS, "d", DIV_ALPHA)
p2 = trace_panel(ta, "alpha", [-7.33, 9.6], ALPHA_Y_TICKS, -4.0)
p3 = kde_panel(kb, "beta", [2.76, 22.92], [-0.0266, 0.253], BETA_TICKS, ".1f", DIV_BETA)
p4 = trace_panel(tb, "beta", [1.76, 22.88], BETA_Y_TICKS, 5.95)

chart = alt.concat(p1, p2, p3, p4, columns=2, spacing={"row": 28, "column": 84}, bounds="flush").properties(
    padding={"left": 3, "top": 0, "right": 5, "bottom": 5}
).configure_view(
    stroke="black", strokeWidth=2
).configure_axis(
    domain=False, grid=False, labelFont="DejaVu Sans", labelFontSize=13.5, labelColor="black",
    tickColor="black", tickWidth=2, tickSize=11, labelPadding=6
).configure_title(
    font="DejaVu Sans", fontSize=14, fontWeight="normal", color="black", anchor="middle",
    baseline="alphabetic", offset=7
)

chart.save("out.html", embed_options={"renderer": "svg", "actions": False})
